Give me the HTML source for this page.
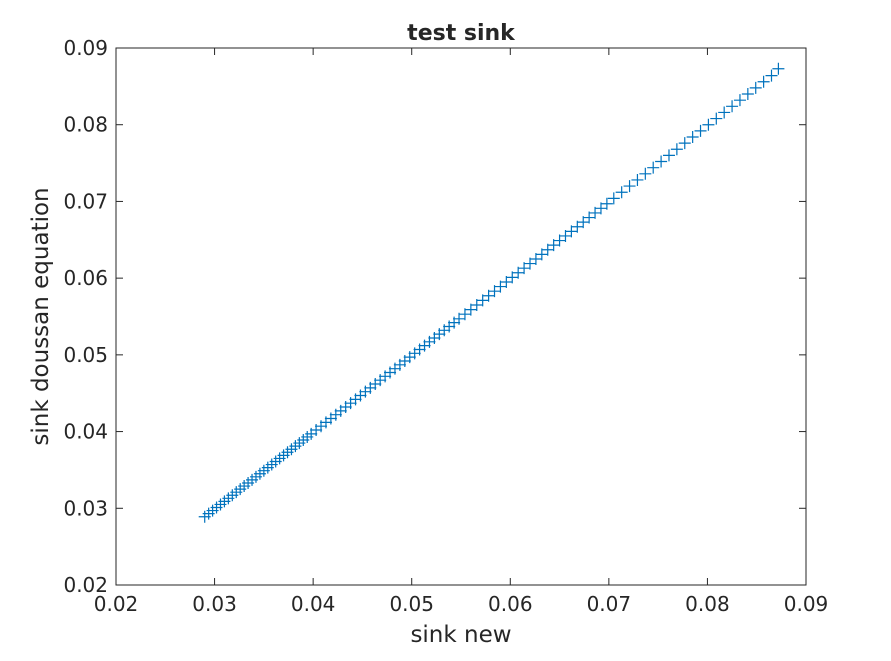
<!DOCTYPE html>
<html><head><meta charset="utf-8"><style>
body{margin:0;background:#fff;}
svg text{font-family:"DejaVu Sans","Liberation Sans",sans-serif;fill:#262626;}
</style></head><body>
<svg id="chart" width="891" height="656" xmlns="http://www.w3.org/2000/svg">
<rect width="891" height="656" fill="#fff"/>
<g id="axes"></g>
<g id="marks"></g>
</svg>
<script>
const xs=[0.029,0.0294,0.0298,0.0302,0.0306,0.031,0.0314,0.0318,0.0322,0.0326,0.033,0.0334,0.0338,0.0342,0.0346,0.035,0.0354,0.0358,0.0362,0.0366,0.037,0.0374,0.0378,0.0382,0.0386,0.039,0.0394,0.0398,
0.0403,0.0408,0.0413,0.0418,0.0423,0.0428,0.0433,0.0438,0.0443,0.0448,0.0453,0.0458,0.0463,0.0468,0.0473,0.0478,0.0483,0.0488,0.0493,0.0498,0.0503,0.0508,0.0513,0.0518,0.0523,0.0528,0.0533,0.0538,0.0543,0.0548,
0.0554,0.056,0.0566,0.0572,0.0578,0.0584,0.059,0.0596,0.0602,0.0608,0.0614,0.062,0.0626,0.0632,0.0638,0.0644,0.065,0.0656,0.0662,0.0668,0.0674,0.068,0.0686,0.0692,0.0698,
0.0705,0.0713,0.0721,0.0729,0.0737,0.0745,0.0753,0.0761,0.0769,0.0777,0.0785,0.0793,0.0801,0.0809,0.0817,0.0825,0.0833,0.0841,0.0849,0.0857,0.0865,0.0872];
const ys=[0.0289,0.0293,0.0297,0.0301,0.0305,0.0309,0.0313,0.0317,0.0321,0.0325,0.0329,0.0333,0.0337,0.0341,0.0345,0.0349,0.0353,0.0357,0.0361,0.0365,0.0369,0.0373,0.0377,0.0381,0.0385,0.0389,0.0393,0.0397,
0.0402,0.0407,0.0412,0.0417,0.0422,0.0427,0.0432,0.0437,0.0442,0.0447,0.0452,0.0457,0.0462,0.0467,0.0472,0.0477,0.0482,0.0487,0.0492,0.0497,0.0502,0.0507,0.0512,0.0517,0.0522,0.0527,0.0532,0.0537,0.0542,0.0547,
0.0553,0.0559,0.0565,0.0571,0.0577,0.0583,0.0589,0.0595,0.0601,0.0607,0.0613,0.0619,0.0625,0.0631,0.0637,0.0643,0.0649,0.0655,0.0661,0.0667,0.0673,0.0679,0.0685,0.0691,0.0697,
0.0704,0.0712,0.0720,0.0728,0.0736,0.0744,0.0752,0.0760,0.0768,0.0776,0.0784,0.0792,0.0800,0.0808,0.0816,0.0824,0.0832,0.0840,0.0848,0.0856,0.0864,0.0873];
const xTicks=[0.02,0.03,0.04,0.05,0.06,0.07,0.08,0.09];
const yTicks=[0.02,0.03,0.04,0.05,0.06,0.07,0.08,0.09];
const xTickLabels=["0.02","0.03","0.04","0.05","0.06","0.07","0.08","0.09"];
const yTickLabels=["0.02","0.03","0.04","0.05","0.06","0.07","0.08","0.09"];

const L=116,R=806,T=48,B=585,xmin=0.02,xmax=0.09,ymin=0.02,ymax=0.09;
const sx=v=>L+(v-xmin)/(xmax-xmin)*(R-L);
const sy=v=>B-(v-ymin)/(ymax-ymin)*(B-T);
const NS="http://www.w3.org/2000/svg";
const axes=document.getElementById('axes'),marks=document.getElementById('marks');
function mk(tag,attrs,parent){const e=document.createElementNS(NS,tag);for(const k in attrs)e.setAttribute(k,attrs[k]);parent.appendChild(e);return e;}

const box=mk('rect',{x:L,y:T,width:R-L,height:B-T,fill:'none',stroke:'#262626','stroke-width':1},axes);



xTicks.forEach((v,i)=>{
  const x=sx(v);
  const t1=mk('line',{x1:x,x2:x,y1:B,y2:B-7,stroke:'#262626'},axes);
  
  
  const t2=mk('line',{x1:x,x2:x,y1:T,y2:T+7,stroke:'#262626'},axes);
  
  
  const tx=mk('text',{x:x,y:B+26,'text-anchor':'middle','font-size':20},axes);
  tx.textContent=xTickLabels[i];
  
  
});
yTicks.forEach((v,i)=>{
  const y=sy(v);
  const t1=mk('line',{x1:L,x2:L+7,y1:y,y2:y,stroke:'#262626'},axes);
  
  
  const t2=mk('line',{x1:R,x2:R-7,y1:y,y2:y,stroke:'#262626'},axes);
  
  
  const tx=mk('text',{x:L-8,y:y+7,'text-anchor':'end','font-size':20},axes);
  tx.textContent=yTickLabels[i];
  
  
});
const title=mk('text',{x:(L+R)/2,y:40,'text-anchor':'middle','font-size':22,'font-weight':'bold'},axes);
title.textContent='test sink';


const xl=mk('text',{x:(L+R)/2,y:642,'text-anchor':'middle','font-size':23},axes);
xl.textContent='sink new';


const yl=mk('text',{x:0,y:0,'text-anchor':'middle','font-size':23,transform:`translate(48,${(T+B)/2}) rotate(-90)`},axes);
yl.textContent='sink doussan equation';



xs.forEach((v,i)=>{
  const x=sx(v),y=sy(ys[i]);
  const p=mk('path',{d:`M${x-6},${y}H${x+6}M${x},${y-6}V${y+6}`,stroke:'#0072BD','stroke-width':1.2,fill:'none'},marks);
  
  
});
</script>
</body></html>
